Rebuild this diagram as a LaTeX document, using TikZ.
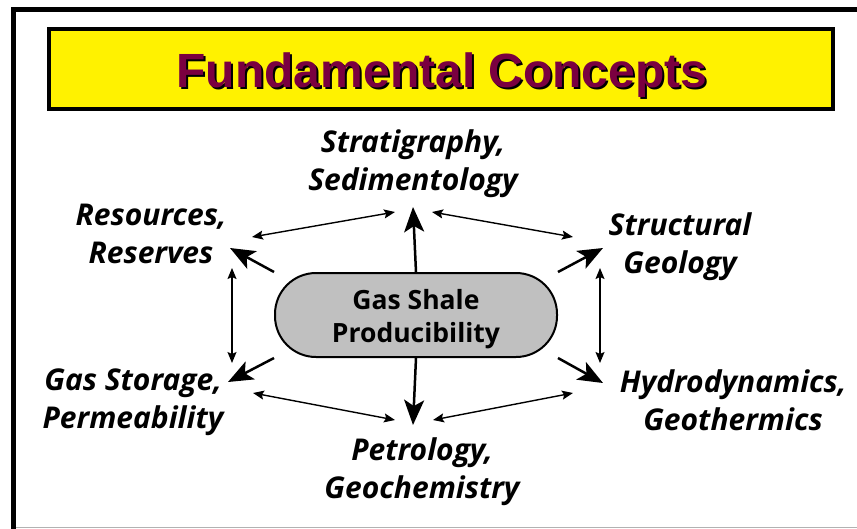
\documentclass[tikz,border=0pt]{standalone}
\usepackage{fontspec}
\setmainfont{Open Sans}
\newfontfamily\headfont{Liberation Sans}
\usetikzlibrary{arrows.meta,backgrounds}

\definecolor{titlered}{HTML}{7A0040}
\definecolor{shalegray}{HTML}{C0C0C0}

\tikzset{
  topic/.style={align=center, inner sep=0pt, anchor=base,
    font=\bfseries\itshape\fontsize{30}{38}\selectfont},
  heading/.style={anchor=base, inner sep=0pt,
    font=\headfont\bfseries\fontsize{48}{48}\selectfont},
  bigarrow/.style={-{Stealth[length=25pt,width=20pt,inset=6pt]}, line width=2.5pt},
  link/.style={{Stealth[length=11pt,width=9pt,inset=2pt]}-{Stealth[length=11pt,width=9pt,inset=2pt]}, line width=1.4pt},
}

\begin{document}
\begin{tikzpicture}[x=1pt,y=-1pt]

\useasboundingbox (0,0) rectangle (857,528);

% frame
\draw[line width=5pt] (870,9.5) -- (13.5,9.5) -- (13.5,540);
\draw[black!30, line width=1pt] (16,527) -- (857,527);

% title bar
\draw[line width=4pt, fill=yellow] (49,29) rectangle (833,109);
\node[heading, text=black] (shadow) at (444,89) {Fundamental Concepts};
\node[heading, text=titlered] (title) at (442,87) {Fundamental Concepts};

% centre
\node[draw, line width=2pt, fill=shalegray, rounded corners=41pt,
      minimum width=282pt, minimum height=84pt,
      label={[align=center, yshift=-4pt, font=\bfseries\fontsize{26.5}{33}\selectfont]center:Gas Shale\\Producibility}] (gsp) at (416,315) {};

% topics (placed by the baseline of their second line)
\node[topic] (strat) at (413,190) {Stratigraphy,\\Sedimentology};
\node[topic] (res) at (151,263) {Resources,\\Reserves};
\node[topic] (struct) at (680,273) {Structural\\Geology};
\node[topic] (stor) at (133,428) {Gas Storage,\\Permeability};
\node[topic] (hydro) at (733,430) {Hydrodynamics,\\Geothermics};
\node[topic] (petro) at (422,498) {Petrology,\\Geochemistry};

% arrow tips
\coordinate (tipN) at (413,207);
\coordinate (tipS) at (413,425);
\coordinate (tipNW) at (230,248);
\coordinate (tipNE) at (603,248);
\coordinate (tipSW) at (228,382);
\coordinate (tipSE) at (603,383);

\begin{scope}[on background layer]
\draw[bigarrow] (gsp.north) -- (tipN);
\draw[bigarrow] (gsp.south) -- (tipS);
\draw[bigarrow] (gsp.north west) -- (tipNW);
\draw[bigarrow] (gsp.north east) -- (tipNE);
\draw[bigarrow] (gsp.south west) -- (tipSW);
\draw[bigarrow] (gsp.south east) -- (tipSE);
\end{scope}

% links between topics
\coordinate (a1) at (252,237);
\coordinate (a2) at (395,212);
\coordinate (b1) at (432,212);
\coordinate (b2) at (573,237);
\coordinate (c1) at (232,268);
\coordinate (c2) at (232,363);
\coordinate (d1) at (600,268);
\coordinate (d2) at (600,363);
\coordinate (e1) at (253,393);
\coordinate (e2) at (395,420);
\coordinate (f1) at (433,420);
\coordinate (f2) at (573,393);

\draw[link] (a1) -- (a2);
\draw[link] (b1) -- (b2);
\draw[link] (c1) -- (c2);
\draw[link] (d1) -- (d2);
\draw[link] (e1) -- (e2);
\draw[link] (f1) -- (f2);

\end{tikzpicture}
\end{document}
